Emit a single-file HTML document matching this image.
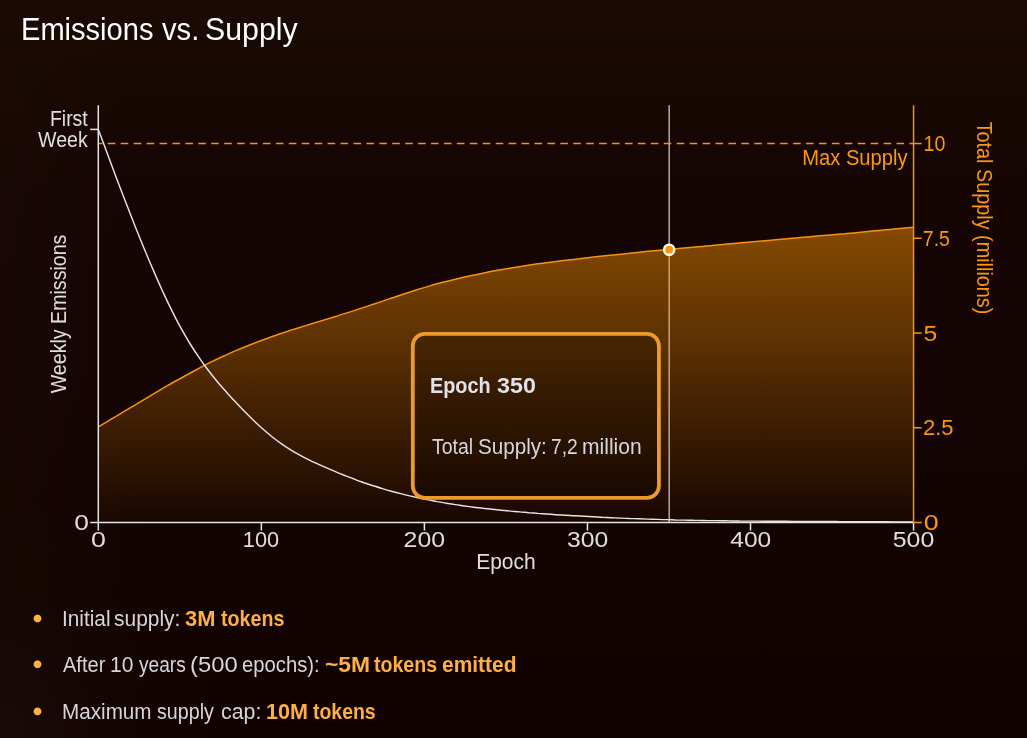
<!DOCTYPE html>
<html lang="en">
<head>
<meta charset="utf-8">
<title>Emissions vs. Supply</title>
<style>
*{box-sizing:border-box}
html,body{margin:0;padding:0}
html{background:#140403}
body{width:1027px;height:738px;overflow:hidden;position:relative;
  background:
    radial-gradient(ellipse 22% 42% at 0% 100%, rgba(27,11,8,.95) 0%, rgba(24,8,5,.45) 45%, rgba(22,6,3,0) 100%),
    linear-gradient(90deg, rgba(30,12,6,.35) 0%, rgba(30,12,6,0) 12%),
    linear-gradient(180deg, #1b0a04 0%, #180803 12%, #150503 30%, #140403 55%, #120300 80%, #110100 100%);
  background-color:#150503;
  font-family:"Liberation Sans",sans-serif;color:#d6d5db}
.chart{position:absolute;left:0;top:0;display:block}
h1,.tooltip,ul,li{margin:0;padding:0;list-style:none;font-weight:400}
.w{position:absolute;white-space:nowrap;transform-origin:0 0;display:block}
h1{color:#fff;font-size:32px}
.tooltip b{color:#e2e0e8;font-weight:700}
.tooltip p{color:#d8d6dc}
p{margin:0}
li b{color:#fdb043;font-weight:700}
li i{position:absolute;left:31px;width:13px;height:13px}
</style>
</head>
<body>
<h1><span class="w" style="left:21.03px;top:9.91px;line-height:38px;font-size:32px;transform:scaleX(0.9083)">Emissions</span> <span class="w" style="left:161.97px;top:9.91px;line-height:38px;font-size:32px;transform:scaleX(0.9139)">vs.</span> <span class="w" style="left:205.48px;top:9.91px;line-height:38px;font-size:32px;transform:scaleX(0.9465)">Supply</span></h1>
<svg class="chart" width="1027" height="738" viewBox="0 0 1027 738" role="img" aria-label="Weekly emissions and total supply by epoch"><defs><linearGradient id="area" x1="0" y1="226" x2="0" y2="522" gradientUnits="userSpaceOnUse"><stop offset="0" stop-color="#ff9500" stop-opacity="0.483"/><stop offset="0.0743" stop-color="#ff9500" stop-opacity="0.449"/><stop offset="0.25" stop-color="#ff9500" stop-opacity="0.3675"/><stop offset="0.419" stop-color="#ff9500" stop-opacity="0.299"/><stop offset="0.588" stop-color="#ff9500" stop-opacity="0.209"/><stop offset="0.757" stop-color="#ff9500" stop-opacity="0.137"/><stop offset="0.912" stop-color="#ff9500" stop-opacity="0.064"/><stop offset="1" stop-color="#ff9500" stop-opacity="0.024"/></linearGradient></defs><line x1="669.2" y1="105.2" x2="669.2" y2="522.45" stroke="#fff" stroke-opacity="0.62" stroke-width="1.6"/><path d="M98.3 426.9C100.6 425.5 107.5 421.5 112.1 418.7C116.7 416.0 121.3 413.2 125.9 410.4C130.5 407.6 135.1 404.8 139.8 402.1C144.4 399.3 149.0 396.5 153.6 393.8C158.2 391.1 162.8 388.3 167.4 385.7C172.0 383.0 176.6 380.5 181.2 378.0C185.8 375.4 190.4 372.9 195.0 370.5C199.6 368.0 204.2 365.5 208.8 363.2C213.4 360.9 218.1 358.6 222.7 356.5C227.3 354.4 231.9 352.3 236.5 350.4C241.1 348.4 245.7 346.5 250.3 344.7C254.9 342.9 259.5 341.2 264.1 339.5C268.7 337.8 273.3 336.1 277.9 334.5C282.5 333.0 287.1 331.4 291.7 329.9C296.4 328.5 301.0 327.0 305.6 325.6C310.2 324.2 314.8 322.8 319.4 321.4C324.0 320.0 328.6 318.6 333.2 317.2C337.8 315.8 342.4 314.4 347.0 312.9C351.6 311.5 356.2 310.0 360.8 308.4C365.4 306.9 370.1 305.3 374.7 303.8C379.3 302.2 383.9 300.6 388.5 299.1C393.1 297.5 397.7 296.0 402.3 294.5C406.9 293.0 411.5 291.5 416.1 290.0C420.7 288.6 425.3 287.2 429.9 285.9C434.5 284.6 439.1 283.3 443.7 282.1C448.4 280.9 453.0 279.8 457.6 278.7C462.2 277.6 466.8 276.6 471.4 275.6C476.0 274.6 480.6 273.6 485.2 272.7C489.8 271.8 494.4 270.9 499.0 270.1C503.6 269.3 508.2 268.5 512.8 267.7C517.4 267.0 522.0 266.3 526.7 265.6C531.3 264.9 535.9 264.2 540.5 263.6C545.1 262.9 549.7 262.3 554.3 261.7C558.9 261.1 563.5 260.6 568.1 260.0C572.7 259.4 577.3 258.9 581.9 258.4C586.5 257.8 591.1 257.3 595.7 256.8C600.3 256.3 605.0 255.8 609.6 255.3C614.2 254.8 618.8 254.3 623.4 253.9C628.0 253.4 632.6 252.9 637.2 252.5C641.8 252.0 646.4 251.5 651.0 251.1C655.6 250.7 660.2 250.2 664.8 249.8C669.4 249.4 674.0 248.9 678.6 248.5C683.3 248.1 687.9 247.7 692.5 247.3C697.1 246.8 701.7 246.4 706.3 246.0C710.9 245.6 715.5 245.2 720.1 244.7C724.7 244.3 729.3 243.9 733.9 243.5C738.5 243.1 743.1 242.6 747.7 242.2C752.3 241.8 756.9 241.4 761.6 241.0C766.2 240.6 770.8 240.2 775.4 239.8C780.0 239.3 784.6 238.9 789.2 238.5C793.8 238.1 798.4 237.7 803.0 237.3C807.6 236.9 812.2 236.5 816.8 236.1C821.4 235.7 826.0 235.3 830.6 234.9C835.2 234.5 839.9 234.1 844.5 233.7C849.1 233.2 853.7 232.8 858.3 232.4C862.9 232.0 867.5 231.5 872.1 231.1C876.7 230.7 881.3 230.2 885.9 229.8C890.5 229.3 895.1 228.8 899.7 228.4C904.3 228.0 911.2 227.4 913.5 227.2L913.55 522.45 L98.30 522.45 Z" fill="url(#area)"/><path d="M98.3 426.9C100.6 425.5 107.5 421.5 112.1 418.7C116.7 416.0 121.3 413.2 125.9 410.4C130.5 407.6 135.1 404.8 139.8 402.1C144.4 399.3 149.0 396.5 153.6 393.8C158.2 391.1 162.8 388.3 167.4 385.7C172.0 383.0 176.6 380.5 181.2 378.0C185.8 375.4 190.4 372.9 195.0 370.5C199.6 368.0 204.2 365.5 208.8 363.2C213.4 360.9 218.1 358.6 222.7 356.5C227.3 354.4 231.9 352.3 236.5 350.4C241.1 348.4 245.7 346.5 250.3 344.7C254.9 342.9 259.5 341.2 264.1 339.5C268.7 337.8 273.3 336.1 277.9 334.5C282.5 333.0 287.1 331.4 291.7 329.9C296.4 328.5 301.0 327.0 305.6 325.6C310.2 324.2 314.8 322.8 319.4 321.4C324.0 320.0 328.6 318.6 333.2 317.2C337.8 315.8 342.4 314.4 347.0 312.9C351.6 311.5 356.2 310.0 360.8 308.4C365.4 306.9 370.1 305.3 374.7 303.8C379.3 302.2 383.9 300.6 388.5 299.1C393.1 297.5 397.7 296.0 402.3 294.5C406.9 293.0 411.5 291.5 416.1 290.0C420.7 288.6 425.3 287.2 429.9 285.9C434.5 284.6 439.1 283.3 443.7 282.1C448.4 280.9 453.0 279.8 457.6 278.7C462.2 277.6 466.8 276.6 471.4 275.6C476.0 274.6 480.6 273.6 485.2 272.7C489.8 271.8 494.4 270.9 499.0 270.1C503.6 269.3 508.2 268.5 512.8 267.7C517.4 267.0 522.0 266.3 526.7 265.6C531.3 264.9 535.9 264.2 540.5 263.6C545.1 262.9 549.7 262.3 554.3 261.7C558.9 261.1 563.5 260.6 568.1 260.0C572.7 259.4 577.3 258.9 581.9 258.4C586.5 257.8 591.1 257.3 595.7 256.8C600.3 256.3 605.0 255.8 609.6 255.3C614.2 254.8 618.8 254.3 623.4 253.9C628.0 253.4 632.6 252.9 637.2 252.5C641.8 252.0 646.4 251.5 651.0 251.1C655.6 250.7 660.2 250.2 664.8 249.8C669.4 249.4 674.0 248.9 678.6 248.5C683.3 248.1 687.9 247.7 692.5 247.3C697.1 246.8 701.7 246.4 706.3 246.0C710.9 245.6 715.5 245.2 720.1 244.7C724.7 244.3 729.3 243.9 733.9 243.5C738.5 243.1 743.1 242.6 747.7 242.2C752.3 241.8 756.9 241.4 761.6 241.0C766.2 240.6 770.8 240.2 775.4 239.8C780.0 239.3 784.6 238.9 789.2 238.5C793.8 238.1 798.4 237.7 803.0 237.3C807.6 236.9 812.2 236.5 816.8 236.1C821.4 235.7 826.0 235.3 830.6 234.9C835.2 234.5 839.9 234.1 844.5 233.7C849.1 233.2 853.7 232.8 858.3 232.4C862.9 232.0 867.5 231.5 872.1 231.1C876.7 230.7 881.3 230.2 885.9 229.8C890.5 229.3 895.1 228.8 899.7 228.4C904.3 228.0 911.2 227.4 913.5 227.2" fill="none" stroke="#f8930a" stroke-width="1.5"/><line x1="98.3" y1="143.55" x2="913.55" y2="143.55" stroke="#f8930a" stroke-width="1.5" stroke-dasharray="7.6 5.33" stroke-dashoffset="3.45"/><path d="M98.3 129.5C99.8 133.6 104.4 145.8 107.5 153.9C110.5 162.1 113.6 170.3 116.6 178.4C119.7 186.5 122.7 194.5 125.8 202.4C128.8 210.3 131.9 218.2 134.9 225.8C138.0 233.5 141.0 241.1 144.1 248.5C147.2 255.8 150.2 263.1 153.3 270.1C156.3 277.2 159.4 284.1 162.4 290.8C165.5 297.4 168.5 303.9 171.6 310.1C174.6 316.3 177.7 322.2 180.7 327.7C183.8 333.3 186.8 338.5 189.9 343.5C193.0 348.5 196.0 353.1 199.1 357.6C202.1 362.0 205.2 366.2 208.2 370.2C211.3 374.2 214.3 378.0 217.4 381.7C220.4 385.3 223.5 388.8 226.5 392.2C229.6 395.6 232.6 398.9 235.7 402.1C238.8 405.4 241.8 408.6 244.9 411.7C247.9 414.8 251.0 417.9 254.0 420.8C257.1 423.7 260.1 426.6 263.2 429.3C266.2 432.0 269.3 434.6 272.3 437.0C275.4 439.4 278.4 441.7 281.5 443.9C284.6 446.1 287.6 448.0 290.7 449.9C293.7 451.8 296.8 453.6 299.8 455.2C302.9 456.9 305.9 458.4 309.0 459.9C312.0 461.4 315.1 462.8 318.1 464.2C321.2 465.6 324.2 466.9 327.3 468.2C330.4 469.5 333.4 470.8 336.5 472.1C339.5 473.4 342.6 474.6 345.6 475.8C348.7 477.0 351.7 478.2 354.8 479.3C357.8 480.5 360.9 481.6 363.9 482.7C367.0 483.7 370.1 484.7 373.1 485.7C376.2 486.7 379.2 487.7 382.3 488.6C385.3 489.5 388.4 490.4 391.4 491.2C394.5 492.1 397.5 492.9 400.6 493.6C403.6 494.4 406.7 495.2 409.7 495.9C412.8 496.6 415.9 497.3 418.9 498.0C422.0 498.6 425.0 499.2 428.1 499.9C431.1 500.5 434.2 501.0 437.2 501.6C440.3 502.1 443.3 502.7 446.4 503.2C449.4 503.7 452.5 504.2 455.5 504.6C458.6 505.1 461.7 505.5 464.7 506.0C467.8 506.4 470.8 506.8 473.9 507.2C476.9 507.6 480.0 507.9 483.0 508.3C486.1 508.6 489.1 509.0 492.2 509.3C495.2 509.6 498.3 509.9 501.3 510.2C504.4 510.5 507.5 510.8 510.5 511.1C513.6 511.4 516.6 511.6 519.7 511.9C522.7 512.2 525.8 512.4 528.8 512.7C531.9 512.9 534.9 513.1 538.0 513.4C541.0 513.6 544.1 513.8 547.1 514.0C550.2 514.3 553.3 514.5 556.3 514.7C559.4 514.9 562.4 515.1 565.5 515.3C568.5 515.5 571.6 515.6 574.6 515.8C577.7 516.0 580.7 516.2 583.8 516.3C586.8 516.5 589.9 516.7 592.9 516.8C596.0 517.0 599.1 517.1 602.1 517.3C605.2 517.4 608.2 517.6 611.3 517.7C614.3 517.8 617.4 518.0 620.4 518.1C623.5 518.2 626.5 518.3 629.6 518.5C632.6 518.6 635.7 518.7 638.7 518.8C641.8 518.9 644.9 519.0 647.9 519.1C651.0 519.2 654.0 519.3 657.1 519.4C660.1 519.5 663.2 519.6 666.2 519.6C669.3 519.7 672.3 519.8 675.4 519.9C678.4 519.9 681.5 520.0 684.5 520.1C687.6 520.2 690.7 520.2 693.7 520.3C696.8 520.3 699.8 520.4 702.9 520.4C705.9 520.5 709.0 520.6 712.0 520.6C715.1 520.6 718.1 520.7 721.2 520.7C724.2 520.8 727.3 520.8 730.3 520.9C733.4 520.9 736.5 520.9 739.5 521.0C742.6 521.0 745.6 521.0 748.7 521.1C751.7 521.1 754.8 521.1 757.8 521.1C760.9 521.2 763.9 521.2 767.0 521.2C770.0 521.2 773.1 521.3 776.1 521.3C779.2 521.3 782.3 521.3 785.3 521.3C788.4 521.4 791.4 521.4 794.5 521.4C797.5 521.4 800.6 521.4 803.6 521.4C806.7 521.4 809.7 521.5 812.8 521.5C815.8 521.5 818.9 521.5 821.9 521.5C825.0 521.5 828.1 521.5 831.1 521.5C834.2 521.5 837.2 521.6 840.3 521.6C843.3 521.6 846.4 521.6 849.4 521.6C852.5 521.6 855.5 521.6 858.6 521.6C861.6 521.7 864.7 521.7 867.7 521.7C870.8 521.7 873.9 521.7 876.9 521.7C880.0 521.8 883.0 521.8 886.1 521.8C889.1 521.8 892.2 521.8 895.2 521.9C898.3 521.9 901.3 521.9 904.4 521.9C907.4 521.9 912.0 521.9 913.5 521.9" fill="none" stroke="#e9e3e2" stroke-width="1.45"/><g stroke="#e9e3e2" stroke-width="1.5" fill="none"><path d="M98.3 105.2V530.55"/><path d="M90.20 522.45H913.55"/><path d="M90.20 129.4H98.3"/><path d="M261.35 522.45V530.55"/><path d="M424.40 522.45V530.55"/><path d="M587.45 522.45V530.55"/><path d="M750.50 522.45V530.55"/><path d="M913.55 522.45V530.55"/></g><g stroke="#f8930a" stroke-width="1.5" fill="none"><path d="M913.55 105.2V523.15"/><path d="M913.55 522.50H921.65"/><path d="M913.55 427.76H921.65"/><path d="M913.55 333.02H921.65"/><path d="M913.55 238.28H921.65"/><path d="M913.55 143.54H921.65"/></g><rect x="412.8" y="333.8" width="246.1" height="164.0" rx="12" fill="#000" fill-opacity="0.25" stroke="#ec9a29" stroke-width="3.8"/><circle cx="669.15" cy="249.7" r="5.1" fill="#fb960c" stroke="#fff" stroke-width="2.4"/><g font-family="'Liberation Sans', sans-serif" fill="#e0dddd"><text transform="translate(49.89 126.00) scale(0.9197 1)" font-size="21.2">First</text><text transform="translate(38.00 146.90) scale(0.9247 1)" font-size="21.2">Week</text><text transform="translate(91.05 546.90) scale(1.2000 1)" font-size="22.3">0</text><text transform="translate(242.79 546.90) scale(0.9755 1)" font-size="22.3">100</text><text transform="translate(403.58 546.90) scale(1.1155 1)" font-size="22.3">200</text><text transform="translate(566.92 546.90) scale(1.1077 1)" font-size="22.3">300</text><text transform="translate(730.25 546.90) scale(1.1000 1)" font-size="22.3">400</text><text transform="translate(892.73 546.90) scale(1.1155 1)" font-size="22.3">500</text><text transform="translate(74.13 530.10) scale(1.1545 1)" font-size="22.8">0</text><text transform="translate(476.17 568.80) scale(0.9895 1)" font-size="21.2">Epoch</text><text transform="translate(66.40 393.30) rotate(-90) translate(0.00 0) scale(0.9259 1)" font-size="21.2">Weekly Emissions</text><text transform="translate(923.78 530.10) scale(1.2286 1)" font-size="21.9" fill="#fb9810">0</text><text transform="translate(923.00 435.36) scale(1.0035 1)" font-size="21.9" fill="#fb9810">2.5</text><text transform="translate(923.47 340.62) scale(1.1317 1)" font-size="21.9" fill="#fb9810">5</text><text transform="translate(922.81 245.88) scale(0.8912 1)" font-size="21.9" fill="#fb9810">7.5</text><text transform="translate(923.53 151.14) scale(0.8966 1)" font-size="21.9" fill="#fb9810">10</text><text transform="translate(802.24 164.60) scale(0.9505 1)" font-size="21.2" fill="#fb9810">Max Supply</text><text transform="translate(977.30 122.10) rotate(90) translate(-0.47 0) scale(0.9351 1)" font-size="21.2" fill="#fb9810">Total Supply (millions)</text></g></svg>
<div class="tooltip"><b><span class="w" style="left:430.46px;top:371.71px;line-height:27px;font-size:22.2px;transform:scaleX(0.8938)">Epoch</span> <span class="w" style="left:496.88px;top:371.71px;line-height:27px;font-size:22.2px;transform:scaleX(1.0490)">350</span></b><p><span class="w" style="left:432.15px;top:434.25px;line-height:26px;font-size:21.5px;transform:scaleX(0.9057)">Total</span> <span class="w" style="left:477.84px;top:434.25px;line-height:26px;font-size:21.5px;transform:scaleX(0.9600)">Supply:</span> <span class="w" style="left:550.61px;top:434.25px;line-height:26px;font-size:21.5px;transform:scaleX(0.8937)">7,2</span> <span class="w" style="left:582.13px;top:434.25px;line-height:26px;font-size:21.5px;transform:scaleX(0.9793)">million</span></p></div>
<ul>
<li><i style="top:612px;background:radial-gradient(circle at 6.5px 6.50px,#fdb043 0,#fdb043 3.4px,rgba(253,176,67,0) 4.35px)"></i><span><span class="w" style="left:61.84px;top:606.25px;line-height:25px;font-size:21.2px;transform:scaleX(0.9804)">Initial</span> <span class="w" style="left:114.16px;top:606.25px;line-height:25px;font-size:21.2px;transform:scaleX(0.9891)">supply:</span></span> <b><span class="w" style="left:185.08px;top:606.25px;line-height:25px;font-size:21.2px;transform:scaleX(1.0327)">3M</span> <span class="w" style="left:220.87px;top:606.25px;line-height:25px;font-size:21.2px;transform:scaleX(0.9279)">tokens</span></b></li>
<li><i style="top:658px;background:radial-gradient(circle at 6.5px 6.30px,#fdb043 0,#fdb043 3.4px,rgba(253,176,67,0) 4.35px)"></i><span><span class="w" style="left:62.80px;top:651.65px;line-height:25px;font-size:21.2px;transform:scaleX(0.9461)">After</span> <span class="w" style="left:110.01px;top:651.65px;line-height:25px;font-size:21.2px;transform:scaleX(0.9929)">10</span> <span class="w" style="left:138.60px;top:651.65px;line-height:25px;font-size:21.2px;transform:scaleX(0.9020)">years</span> <span class="w" style="left:189.80px;top:651.65px;line-height:25px;font-size:21.2px;transform:scaleX(1.1230)">(500</span> <span class="w" style="left:242.28px;top:651.65px;line-height:25px;font-size:21.2px;transform:scaleX(0.9554)">epochs):</span></span> <b><span class="w" style="left:324.59px;top:651.65px;line-height:25px;font-size:21.2px;transform:scaleX(1.0792)">~5M</span> <span class="w" style="left:374.07px;top:651.65px;line-height:25px;font-size:21.2px;transform:scaleX(0.9234)">tokens</span> <span class="w" style="left:442.06px;top:651.65px;line-height:25px;font-size:21.2px;transform:scaleX(0.9884)">emitted</span></b></li>
<li><i style="top:705px;background:radial-gradient(circle at 6.5px 6.40px,#fdb043 0,#fdb043 3.4px,rgba(253,176,67,0) 4.35px)"></i><span><span class="w" style="left:62.09px;top:699.05px;line-height:25px;font-size:21.2px;transform:scaleX(0.9758)">Maximum</span> <span class="w" style="left:156.50px;top:699.05px;line-height:25px;font-size:21.2px;transform:scaleX(0.9289)">supply</span> <span class="w" style="left:220.74px;top:699.05px;line-height:25px;font-size:21.2px;transform:scaleX(1.0080)">cap:</span></span> <b><span class="w" style="left:265.83px;top:699.05px;line-height:25px;font-size:21.2px;transform:scaleX(1.0182)">10M</span> <span class="w" style="left:312.77px;top:699.05px;line-height:25px;font-size:21.2px;transform:scaleX(0.9175)">tokens</span></b></li>
</ul>
</body>
</html>
